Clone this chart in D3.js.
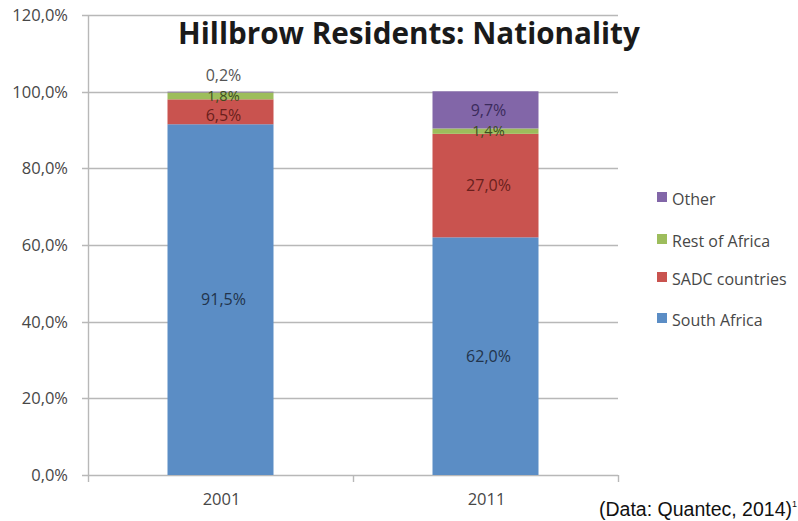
<!DOCTYPE html>
<html>
<head>
<meta charset="utf-8">
<script src="https://cdn.jsdelivr.net/npm/d3@7"></script>
<style>
  body { margin: 0; background: #fff; }
  svg { display: block; }
  text { font-family: "Open Sans", Lato, sans-serif; }
</style>
</head>
<body>
<div id="chart"></div>
<script>
// data
var years = ["2001", "2011"];
var groups = ["South Africa", "SADC countries", "Rest of Africa", "Other"];
var southAfrica = [91.5, 62.0];
var sadc = [6.5, 27.0];
var restOfAfrica = [1.8, 1.4];
var other = [0.2, 9.7];
var yTicks = [0, 20, 40, 60, 80, 100, 120];
var colours = ["#5b8dc5", "#c9534f", "#9dbd5c", "#8266a8"];
var labelColours = ["#22344c", "#6a1f1c", "#3d4d1e", "#3b2b5c"];

var width = 798, height = 521;
var margin = { left: 88, right: 180, top: 15, bottom: 46 };

var svg = d3.select("#chart").append("svg")
  .attr("width", width)
  .attr("height", height);

var rows = years.map(function(y, i) {
  return { year: y, "South Africa": southAfrica[i], "SADC countries": sadc[i],
           "Rest of Africa": restOfAfrica[i], "Other": other[i] };
});

var x = d3.scaleBand()
  .domain(years)
  .range([margin.left, width - margin.right])
  .paddingInner(0.6)
  .paddingOuter(0.3);

var y = d3.scaleLinear()
  .domain([0, 120])
  .range([height - margin.bottom, margin.top]);

var fmt = function(v) { return d3.format(".1f")(v).replace(".", ",") + "%"; };

// gridlines
svg.append("g")
  .selectAll("line")
  .data(yTicks)
  .enter().append("line")
  .attr("x1", margin.left - 6)
  .attr("x2", width - margin.right)
  .attr("y1", function(d) { return Math.round(y(d)) + 0.5; })
  .attr("y2", function(d) { return Math.round(y(d)) + 0.5; })
  .attr("stroke", "#b8b8b8")
  .attr("stroke-width", 1.4);

// y axis labels
svg.append("g")
  .selectAll("text")
  .data(yTicks)
  .enter().append("text")
  .attr("x", margin.left - 20)
  .attr("y", function(d) { return y(d); })
  .attr("dy", "0.36em")
  .attr("text-anchor", "end")
  .attr("font-size", 16.5)
  .attr("fill", "#474747")
  .text(fmt);

// axis lines
svg.append("line")
  .attr("x1", margin.left + 0.5).attr("x2", margin.left + 0.5)
  .attr("y1", y(120)).attr("y2", y(0))
  .attr("stroke", "#b8b8b8").attr("stroke-width", 1.4);

var xEdges = [margin.left, (margin.left + width - margin.right) / 2, width - margin.right];
svg.append("g")
  .selectAll("line")
  .data(xEdges)
  .enter().append("line")
  .attr("x1", function(d) { return d + 0.5; })
  .attr("x2", function(d) { return d + 0.5; })
  .attr("y1", y(0))
  .attr("y2", y(0) + 7)
  .attr("stroke", "#b8b8b8").attr("stroke-width", 1.4);

// stacked bars
var stack = d3.stack().keys(groups);
var series = stack(rows);

var layers = svg.append("g")
  .selectAll("g")
  .data(series)
  .enter().append("g")
  .attr("fill", function(d, i) { return colours[i]; });

layers.selectAll("rect")
  .data(function(d) { return d; })
  .enter().append("rect")
  .attr("x", function(d) { return x(d.data.year); })
  .attr("width", x.bandwidth())
  .attr("y", function(d) { return y(d[1]); })
  .attr("height", function(d) { return y(d[0]) - y(d[1]); });

// value labels: centred in segment, tiny ones above the bar,
// then spread apart a little so crowded ones don't sit on top of each other
var labels = [];
series.forEach(function(s, i) {
  s.forEach(function(d) {
    var v = d[1] - d[0];
    labels.push({
      year: d.data.year, v: v, i: i,
      cy: v < 1 ? y(d[1]) - 13 : y((d[0] + d[1]) / 2),
      size: (v >= 1 && v < 3) ? 14.5 : 16
    });
  });
});
years.forEach(function(yr) {
  var ls = labels.filter(function(l) { return l.year === yr; })
    .sort(function(a, b) { return a.cy - b.cy; });
  for (var it = 0; it < 30; it++) {
    for (var k = 1; k < ls.length; k++) {
      var gap = ls[k].cy - ls[k - 1].cy, need = 20;
      if (gap < need) {
        var push = (need - gap) / 2;
        ls[k].cy += push;
        ls[k - 1].cy -= push;
      }
    }
  }
});

svg.append("g")
  .selectAll("text")
  .data(labels)
  .enter().append("text")
  .attr("x", function(d) { return x(d.year) + x.bandwidth() / 2 + 3; })
  .attr("y", function(d) { return d.cy; })
  .attr("dy", "0.36em")
  .attr("text-anchor", "middle")
  .attr("font-size", function(d) { return d.size; })
  .attr("fill", function(d) { return d.v < 1 ? "#555" : labelColours[d.i]; })
  .text(function(d) { return fmt(d.v); });

// x labels
svg.append("g")
  .selectAll("text")
  .data(years)
  .enter().append("text")
  .attr("x", function(d) { return x(d) + x.bandwidth() / 2 + 1; })
  .attr("y", y(0) + 30)
  .attr("text-anchor", "middle")
  .attr("font-size", 16.5)
  .attr("fill", "#474747")
  .text(function(d) { return d; });

// title, sized to span the same width as the original
var title = svg.append("text")
  .attr("x", 409)
  .attr("y", 44)
  .attr("text-anchor", "middle")
  .attr("font-size", 28)
  .attr("font-weight", "bold")
  .attr("fill", "#1a1a1a")
  .text("Hillbrow Residents: Nationality");
var tw = title.node().getComputedTextLength();
title.attr("font-size", 28 * 462 / tw);

// legend (top to bottom: Other ... South Africa)
var legendY = [318, 277, 239, 197];
var legend = svg.append("g")
  .selectAll("g")
  .data(groups)
  .enter().append("g")
  .attr("transform", function(d, i) { return "translate(657," + legendY[i] + ")"; });

legend.append("rect")
  .attr("x", 0).attr("y", -5)
  .attr("width", 10).attr("height", 10)
  .attr("fill", function(d, i) { return colours[i]; });

legend.append("text")
  .attr("x", 15)
  .attr("y", 2)
  .attr("dy", "0.36em")
  .attr("font-size", 16)
  .attr("fill", "#474747")
  .text(function(d) { return d; });

// source note
var note = svg.append("text")
  .attr("x", 797)
  .attr("y", 516)
  .attr("text-anchor", "end")
  .style("font-family", "'Liberation Sans', Arial, sans-serif")
  .attr("font-size", 19.5)
  .attr("fill", "#111");
note.append("tspan").text("(Data: Quantec, 2014)");
note.append("tspan").attr("font-size", 9).attr("dy", -9).text("1");
</script>
</body>
</html>
